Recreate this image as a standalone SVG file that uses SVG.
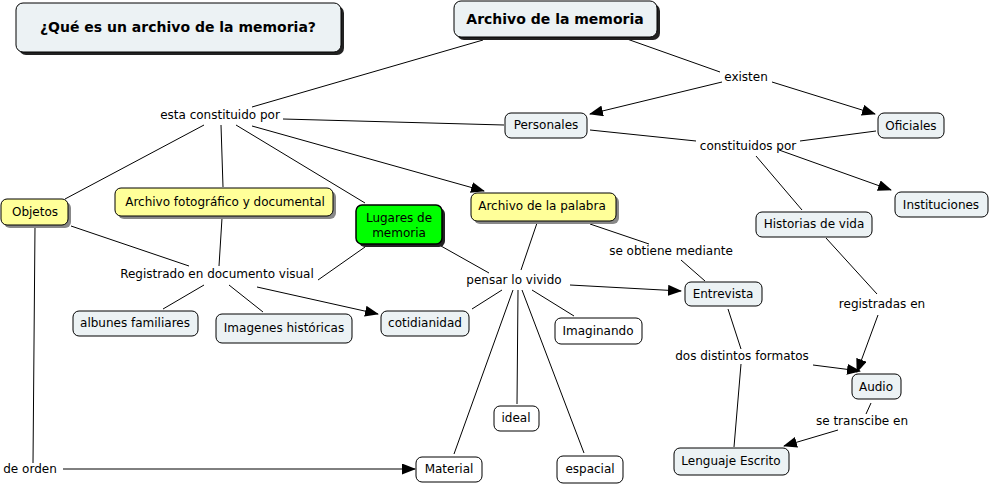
<svg xmlns="http://www.w3.org/2000/svg" width="991" height="486" viewBox="0 0 991 486">
<style>
text{font-family:"DejaVu Sans",Verdana,sans-serif;font-size:12px;fill:#000;text-anchor:middle;dominant-baseline:central}
.b{font-weight:bold;font-size:14px}
.n{fill:#ECF2F4;stroke:#000;stroke-width:1}
.y{fill:#FFFF99;stroke:#000;stroke-width:1}
.w{fill:#fff;stroke:#000;stroke-width:1}
.g{fill:#00FF00;stroke:#000;stroke-width:1.5}
.s{fill:#888}
.sd{fill:#222}
#links line{stroke:#000;stroke-width:1}
</style>
<defs>
<marker id="a" markerWidth="14" markerHeight="11" refX="13" refY="5.5" orient="auto" markerUnits="userSpaceOnUse">
<path d="M0,0 L14,5.5 L0,11 z" fill="#000"/>
</marker>
</defs>
<rect width="991" height="486" fill="#fff"/>
<g id="links">
<line x1="483" y1="40" x2="252" y2="107"/>
<line x1="283" y1="119" x2="504" y2="125"/>
<line x1="204" y1="125" x2="65" y2="199"/>
<line x1="221" y1="125" x2="223" y2="187"/>
<line x1="236" y1="125" x2="365" y2="203"/>
<line x1="252" y1="126" x2="484" y2="191" marker-end="url(#a)"/>
<line x1="627" y1="39" x2="720" y2="72"/>
<line x1="722" y1="82" x2="590" y2="114" marker-end="url(#a)"/>
<line x1="772" y1="82" x2="875" y2="114" marker-end="url(#a)"/>
<line x1="590" y1="130" x2="696" y2="141"/>
<line x1="876" y1="131" x2="800" y2="141"/>
<line x1="779" y1="150" x2="891" y2="190" marker-end="url(#a)"/>
<line x1="756" y1="156" x2="802" y2="210"/>
<line x1="826" y1="238" x2="877" y2="294"/>
<line x1="878" y1="315" x2="857" y2="372" marker-end="url(#a)"/>
<line x1="871" y1="403" x2="866" y2="414"/>
<line x1="838" y1="430" x2="784" y2="446" marker-end="url(#a)"/>
<line x1="728" y1="309" x2="741" y2="349"/>
<line x1="741" y1="364" x2="734" y2="447"/>
<line x1="813" y1="365" x2="860" y2="371" marker-end="url(#a)"/>
<line x1="590" y1="224" x2="649" y2="244"/>
<line x1="681" y1="260" x2="705" y2="281"/>
<line x1="537" y1="223" x2="521" y2="270"/>
<line x1="441" y1="246" x2="489" y2="273"/>
<line x1="570" y1="285" x2="681" y2="291" marker-end="url(#a)"/>
<line x1="532" y1="290" x2="574" y2="316"/>
<line x1="502" y1="290" x2="472" y2="309"/>
<line x1="518" y1="290" x2="517" y2="404"/>
<line x1="513" y1="290" x2="454" y2="454"/>
<line x1="522" y1="290" x2="584" y2="453"/>
<line x1="71" y1="226" x2="189" y2="266"/>
<line x1="222" y1="218" x2="219" y2="266"/>
<line x1="365" y1="247" x2="318" y2="280"/>
<line x1="204" y1="285" x2="163" y2="309"/>
<line x1="229" y1="285" x2="263" y2="312"/>
<line x1="257" y1="287" x2="378" y2="314" marker-end="url(#a)"/>
<line x1="35" y1="226" x2="33" y2="463"/>
<line x1="63" y1="469" x2="415" y2="469" marker-end="url(#a)"/>
</g>
<g id="labels">
<text x="220" y="115">esta constituido por</text>
<text x="746" y="77">existen</text>
<text x="748" y="146">constituidos por</text>
<text x="217" y="274">Registrado en documento visual</text>
<text x="514" y="280">pensar lo vivido</text>
<text x="671" y="251">se obtiene mediante</text>
<text x="882" y="304">registradas en</text>
<text x="742" y="356">dos distintos formatos</text>
<text x="862" y="421">se transcibe en</text>
<text x="30" y="469">de orden</text>
</g>
<g id="title"><rect class="sd" x="19" y="6" width="325" height="49" rx="7"/><rect class="n" x="16" y="3" width="325" height="49" rx="7"/><text class="b" x="178" y="27">¿Qué es un archivo de la memoria?</text></g>
<g id="archivo-memoria"><rect class="sd" x="457" y="4" width="203" height="36" rx="7"/><rect class="n" x="454" y="1" width="203" height="36" rx="7"/><text class="b" x="555" y="19">Archivo de la memoria</text></g>
<g id="personales"><rect class="n" x="505" y="113" width="82" height="25" rx="6"/><text x="546" y="125">Personales</text></g>
<g id="oficiales"><rect class="n" x="878" y="113" width="66" height="25" rx="6"/><text x="911" y="126">Oficiales</text></g>
<g id="instituciones"><rect class="n" x="895" y="192" width="93" height="25" rx="6"/><text x="941" y="205">Instituciones</text></g>
<g id="historias"><rect class="n" x="756" y="212" width="116" height="25" rx="6"/><text x="814" y="224">Historias de vida</text></g>
<g id="objetos"><rect class="s" x="4" y="202" width="67" height="26" rx="6"/><rect class="y" x="1" y="199" width="67" height="26" rx="6"/><text x="35" y="212">Objetos</text></g>
<g id="fotografico"><rect class="s" x="118" y="191" width="218" height="28" rx="6"/><rect class="y" x="115" y="188" width="218" height="28" rx="6"/><text x="225" y="202">Archivo fotográfico y documental</text></g>
<g id="lugares"><rect class="sd" x="359" y="208" width="86" height="39" rx="6"/><rect class="g" x="356" y="205" width="86" height="39" rx="6"/><text x="399" y="218">Lugares de</text><text x="399" y="233">memoria</text></g>
<g id="palabra"><rect class="s" x="474" y="196" width="145" height="28" rx="6"/><rect class="y" x="471" y="193" width="145" height="28" rx="6"/><text x="542" y="206">Archivo de la palabra</text></g>
<g id="entrevista"><rect class="n" x="685" y="282" width="77" height="24" rx="6"/><text x="723" y="294">Entrevista</text></g>
<g id="imaginando"><rect class="w" x="555" y="318" width="87" height="26" rx="6"/><text x="598" y="331">Imaginando</text></g>
<g id="cotidianidad"><rect class="n" x="381" y="311" width="88" height="25" rx="6"/><text x="425" y="323">cotidianidad</text></g>
<g id="albunes"><rect class="n" x="73" y="311" width="125" height="25" rx="6"/><text x="135" y="323">albunes familiares</text></g>
<g id="imagenes"><rect class="n" x="216" y="314" width="136" height="29" rx="6"/><text x="284" y="328">Imagenes históricas</text></g>
<g id="ideal"><rect class="w" x="494" y="406" width="45" height="25" rx="6"/><text x="516" y="418">ideal</text></g>
<g id="audio"><rect class="n" x="852" y="374" width="49" height="25" rx="6"/><text x="876" y="387">Audio</text></g>
<g id="material"><rect class="w" x="416" y="457" width="66" height="25" rx="6"/><text x="449" y="469">Material</text></g>
<g id="espacial"><rect class="w" x="557" y="456" width="66" height="27" rx="6"/><text x="590" y="469">espacial</text></g>
<g id="lenguaje"><rect class="n" x="674" y="448" width="115" height="27" rx="6"/><text x="731" y="461">Lenguaje Escrito</text></g>
</svg>
